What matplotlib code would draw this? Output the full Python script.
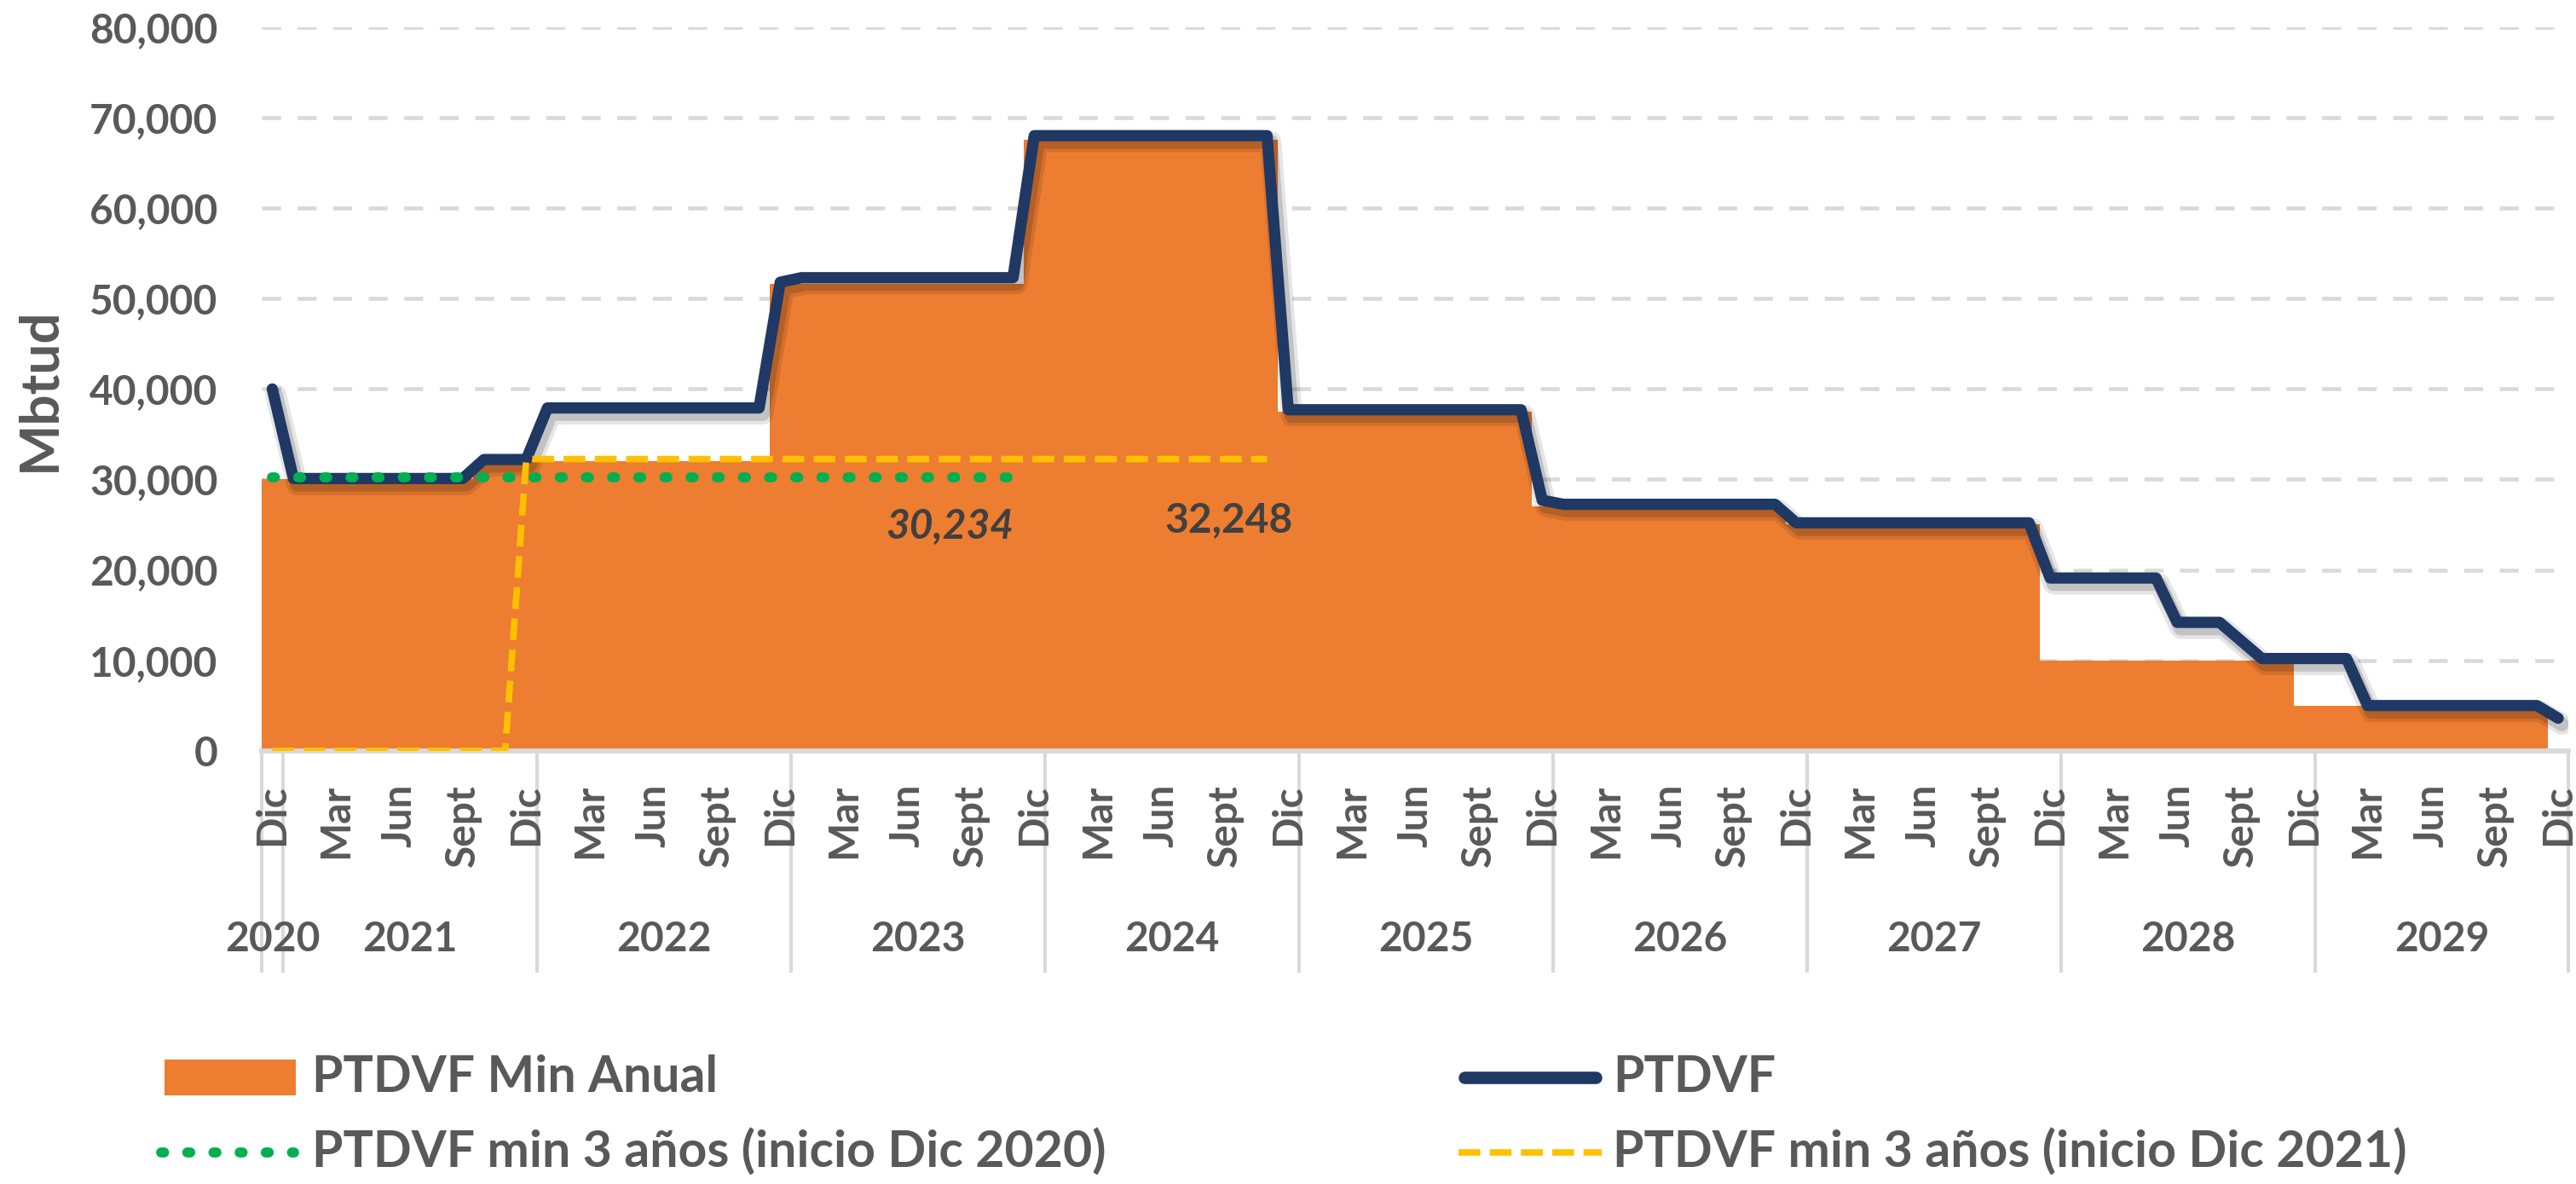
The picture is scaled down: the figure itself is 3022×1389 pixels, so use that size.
import matplotlib
matplotlib.use("Agg")
import matplotlib.pyplot as plt
import matplotlib.patheffects as pe
from matplotlib.lines import Line2D
from matplotlib.patches import Rectangle
import numpy as np

plt.rcParams['font.family'] = ['Lato', 'DejaVu Sans']

# ---- data (one category per month, Dic 2020 .. Dic 2029) ----
years = ["2020", "2021", "2022", "2023", "2024", "2025", "2026", "2027", "2028", "2029"]
year_first = [0, 1, 13, 25, 37, 49, 61, 73, 85, 97]
year_last = [0, 12, 24, 36, 48, 60, 72, 84, 96, 108]
tick_months = ["Dic", "Mar", "Jun", "Sept"]   # shown every 3 months

# PTDVF (Mbtud), month by month (Ene..Dic of each year)
ptdvf = (
    [40000]
    + [30100, 30100, 30100, 30100, 30100, 30100, 30100, 30100, 30100, 32200, 32200, 32200]
    + [37900, 37900, 37900, 37900, 37900, 37900, 37900, 37900, 37900, 37900, 37900, 51800]
    + [52300, 52300, 52300, 52300, 52300, 52300, 52300, 52300, 52300, 52300, 52300, 68000]
    + [68000, 68000, 68000, 68000, 68000, 68000, 68000, 68000, 68000, 68000, 68000, 37700]
    + [37700, 37700, 37700, 37700, 37700, 37700, 37700, 37700, 37700, 37700, 37700, 27700]
    + [27250, 27250, 27250, 27250, 27250, 27250, 27250, 27250, 27250, 27250, 27250, 25200]
    + [25200, 25200, 25200, 25200, 25200, 25200, 25200, 25200, 25200, 25200, 25200, 19100]
    + [19100, 19100, 19100, 19100, 19100, 14200, 14200, 14200, 12200, 10200, 10200, 10200]
    + [10200, 10200, 5000, 5000, 5000, 5000, 5000, 5000, 5000, 5000, 5000, 3600]
)

# PTDVF Min Anual
min_anual = (
    [30000]
    + [30000, 30000, 30000, 30000, 30000, 30000, 30000, 30000, 30000, 32000, 32000, 32000]
    + [32000, 32000, 32000, 32000, 32000, 32000, 32000, 32000, 32000, 32000, 32000, 51600]
    + [51600, 51600, 51600, 51600, 51600, 51600, 51600, 51600, 51600, 51600, 51600, 67500]
    + [67500, 67500, 67500, 67500, 67500, 67500, 67500, 67500, 67500, 67500, 67500, 37500]
    + [37500, 37500, 37500, 37500, 37500, 37500, 37500, 37500, 37500, 37500, 37500, 27000]
    + [27000, 27000, 27000, 27000, 27000, 27000, 27000, 27000, 27000, 27000, 27000, 25000]
    + [25000, 25000, 25000, 25000, 25000, 25000, 25000, 25000, 25000, 25000, 25000, 10000]
    + [10000, 10000, 10000, 10000, 10000, 10000, 10000, 10000, 10000, 10000, 10000, 5000]
    + [5000, 5000, 5000, 5000, 5000, 5000, 5000, 5000, 5000, 5000, 5000, 0]
)

n = len(ptdvf)
nan = np.nan
# 3-year minimums
min3_dic2020 = [30234] * 36 + [nan] * (n - 36)
min3_dic2021 = [0] * 12 + [32248] * 36 + [nan] * (n - 48)

lbl_min3_2020 = "30,234"
lbl_min3_2021 = "32,248"

# ---- style ----
ORANGE = '#ED7D31'
NAVY = '#1F3864'
GREEN = '#00B050'
YELLOW = '#FFC000'
GRID = '#D9D9D9'
TXT = '#595959'
DOTS = (0, (0.3, 2.3))
DASHES = (0, (3.35, 1.45))

W, H = 3022, 1389
fig = plt.figure(figsize=(W / 100, H / 100), dpi=100)
ax = fig.add_axes([307 / W, 1 - 880.8 / H, 2706.5 / W, 849 / H])

x = np.arange(n)
ax.bar(x, min_anual, width=1.0, color=ORANGE, linewidth=0, zorder=2)

shadow = [pe.SimpleLineShadow(offset=(3, -5), shadow_color='black', alpha=0.10, linewidth=18),
          pe.SimpleLineShadow(offset=(3, -5), shadow_color='black', alpha=0.15, linewidth=12),
          pe.Normal()]
ax.plot(x, ptdvf, color=NAVY, lw=9.5, solid_joinstyle='round', solid_capstyle='round',
        zorder=3, path_effects=shadow)
ax.plot(x, min3_dic2020, color=GREEN, lw=8.5, linestyle=DOTS,
        dash_capstyle='round', zorder=4)
ax.plot(x, min3_dic2021, color=YELLOW, lw=5.5, linestyle=DASHES, zorder=4)

ax.set_xlim(-0.5, n - 0.5)
ax.set_ylim(0, 80000)
ax.set_yticks(range(0, 80001, 10000))
ax.set_yticklabels([f"{v:,}" for v in range(0, 80001, 10000)], fontweight='bold')
ax.tick_params(axis='y', length=0, pad=37, labelsize=34.5, labelcolor=TXT)
ax.set_xticks([])
ax.yaxis.grid(True, color=GRID, lw=3.3, linestyle=(0, (16 / 3.3, 14 / 3.3)))
ax.set_axisbelow(True)
for s in ['top', 'right', 'left']:
    ax.spines[s].set_visible(False)
ax.spines['bottom'].set_color(GRID)
ax.spines['bottom'].set_linewidth(4.2)

# category axis: months and year groups
tr = ax.get_xaxis_transform()
for i in range(0, n, 3):
    ax.text(i, -0.046, tick_months[(i // 3) % 4], transform=tr, rotation=90,
            ha='center', va='top', fontsize=34.5, fontweight='bold', color=TXT)
for yr, a, b in zip(years, year_first, year_last):
    ax.text((a + b) / 2, -0.2606, yr, transform=tr, ha='center', va='center',
            fontsize=34.5, fontweight='bold', color=TXT)
for b in [-0.5] + [v + 0.5 for v in year_last]:
    ax.plot([b, b], [0, -0.304], transform=tr, clip_on=False, color=GRID, lw=2.9)

# value labels
ax.text(32.0, 24870, lbl_min3_2020, ha='center', va='center', fontsize=34.5,
        fontweight='bold', fontstyle='italic', color='#404040', zorder=5)
ax.text(45.2, 25520, lbl_min3_2021, ha='center', va='center', fontsize=34.5,
        fontweight='bold', color='#404040', zorder=5)

fig.text(46 / W, 1 - 457 / H, "Mbtud", rotation=90, ha='center', va='center',
         fontsize=46, fontweight='bold', color=TXT)

# legend (two columns, two rows)
r1, r2 = 1 - 1264 / H, 1 - 1352 / H
fig.add_artist(Rectangle((193 / W, r1 - 21 / H), 154 / W, 42 / H,
                         transform=fig.transFigure, color=ORANGE, lw=0))
fig.add_artist(Line2D([1718 / W, 1872 / W], [r1, r1], color=NAVY, lw=10.5,
                      solid_capstyle='round', transform=fig.transFigure))
fig.add_artist(Line2D([189 / W, 345 / W], [r2, r2], color=GREEN, lw=8.5,
                      linestyle=DOTS, dash_capstyle='round',
                      transform=fig.transFigure))
fig.add_artist(Line2D([1711 / W, 1879 / W], [r2, r2], color=YELLOW, lw=5.5,
                      linestyle=DASHES, transform=fig.transFigure))
legend_labels = ["PTDVF Min Anual", "PTDVF",
                 "PTDVF min 3 años (inicio Dic 2020)", "PTDVF min 3 años (inicio Dic 2021)"]
for lbl, (lx, ly) in zip(legend_labels, [(366, r1), (1892, r1), (366, r2), (1892, r2)]):
    fig.text(lx / W, ly, lbl, ha='left', va='center', fontsize=42.5,
             fontweight='bold', color=TXT)

fig.savefig("out.png", dpi=100, facecolor='white')
